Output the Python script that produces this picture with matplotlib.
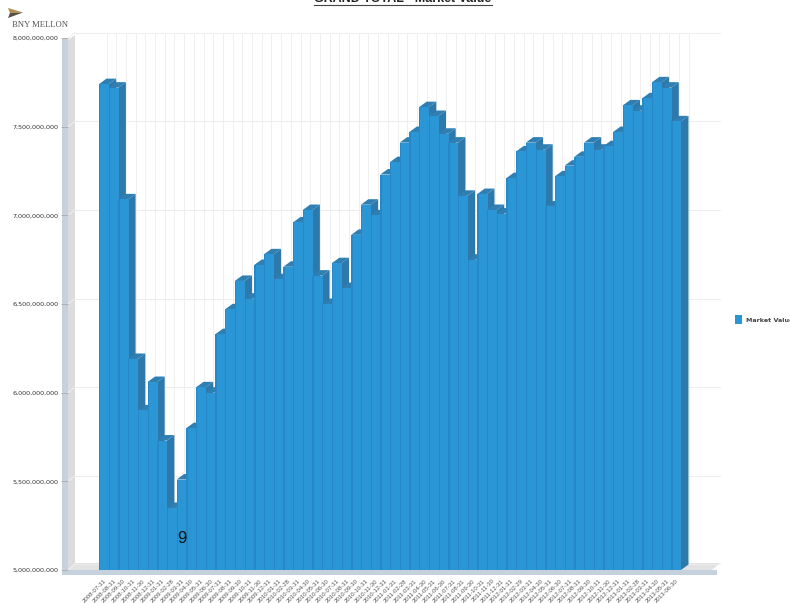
import matplotlib
matplotlib.use("Agg")
import matplotlib.pyplot as plt
from matplotlib.patches import Polygon

dates = [
    "2008-07-31", "2008-08-31", "2008-09-30", "2008-10-31", "2008-11-30", "2008-12-31",
    "2009-01-31", "2009-02-28", "2009-03-31", "2009-04-30", "2009-05-31", "2009-06-30",
    "2009-07-31", "2009-08-31", "2009-09-30", "2009-10-31", "2009-11-30", "2009-12-31",
    "2010-01-31", "2010-02-28", "2010-03-31", "2010-04-30", "2010-05-31", "2010-06-30",
    "2010-07-31", "2010-08-31", "2010-09-30", "2010-10-31", "2010-11-30", "2010-12-31",
    "2011-01-31", "2011-02-28", "2011-03-31", "2011-04-30", "2011-05-31", "2011-06-30",
    "2011-07-31", "2011-08-31", "2011-09-30", "2011-10-31", "2011-11-30", "2011-12-31",
    "2012-01-31", "2012-02-29", "2012-03-31", "2012-04-30", "2012-05-31", "2012-06-30",
    "2012-07-31", "2012-08-31", "2012-09-30", "2012-10-31", "2012-11-30", "2012-12-31",
    "2013-01-31", "2013-02-28", "2013-03-31", "2013-04-30", "2013-05-31", "2013-06-30",
]
values = [
    7.74, 7.72, 7.09, 6.19, 5.90, 6.06, 5.73, 5.35, 5.51, 5.80,
    6.03, 6.00, 6.33, 6.47, 6.63, 6.53, 6.72, 6.78, 6.64, 6.71,
    6.96, 7.03, 6.66, 6.50, 6.73, 6.59, 6.89, 7.06, 7.00, 7.23,
    7.30, 7.41, 7.47, 7.61, 7.56, 7.46, 7.41, 7.11, 6.75, 7.12,
    7.03, 7.01, 7.21, 7.36, 7.41, 7.37, 7.05, 7.22, 7.28, 7.33,
    7.41, 7.37, 7.39, 7.47, 7.62, 7.59, 7.66, 7.75, 7.72, 7.53,
]
values = [v * 1e9 for v in values]
y_ticks = [5e9, 5.5e9, 6e9, 6.5e9, 7e9, 7.5e9, 8e9]

W, H = 790, 603
FRONT = "#2a96d6"
SEAM = "#2688c6"
SIDE = "#2d79ab"
TOP = "#2f7fb3"


def px(x, y):
    return x / W, 1 - y / H


def shape(fig, pts, color, z=0):
    fig.add_artist(Polygon([px(*p) for p in pts], closed=True, transform=fig.transFigure,
                           facecolor=color, edgecolor="none", zorder=z))


fig = plt.figure(figsize=(7.9, 6.03), dpi=100, facecolor="white")
plt.rcParams["font.family"] = ["Liberation Sans", "DejaVu Sans"]

# walls of the fake 3D box
shape(fig, [(62, 38), (68, 38), (68, 570), (62, 570)], "#c5d2de")
shape(fig, [(68, 40), (75, 35), (75, 563), (68, 570)], "#dcdcdc")
shape(fig, [(68, 570), (75, 563), (720, 563), (712, 570)], "#e2e2e2")
shape(fig, [(62, 570), (717, 570), (717, 575), (62, 575)], "#c5d2de")

# axes = front plane of the box, bars live in it
ax = fig.add_axes([68 / W, 1 - 570 / H, 644 / W, 532 / H])
ax.patch.set_alpha(0)
ax.set_xlim(-31 / 9.7, 613 / 9.7)
ax.set_ylim(5e9, 8e9)
for s in ax.spines.values():
    s.set_visible(False)

dx = 7.5 / 9.7
dy = 5.5 / 532 * 3e9

# back wall grid
x_right = (720 - 99) / 9.7
x_left = (75 - 99) / 9.7
for t in y_ticks:
    ax.plot([x_left, x_right], [t + dy, t + dy], color="#ececec", lw=0.7, zorder=1, clip_on=False)
    ax.plot([-31 / 9.7, x_left], [t, t + dy], color="#efefef", lw=0.7, zorder=1, clip_on=False)
for i in range(len(dates) + 1):
    ax.plot([i + dx, i + dx], [5e9 + dy, 8e9 + dy], color="#efefef", lw=0.7, zorder=1, clip_on=False)

n = len(values)
for i, v in enumerate(values):
    z = 3 + i
    ax.add_patch(Polygon([(i + 1, 5e9), (i + 1 + dx, 5e9 + dy), (i + 1 + dx, v + dy), (i + 1, v)],
                         facecolor=SIDE, edgecolor="none", zorder=z, clip_on=False))
    ax.add_patch(Polygon([(i, v), (i + dx, v + dy), (i + 1 + dx, v + dy), (i + 1, v)],
                         facecolor=TOP, edgecolor="none", zorder=z, clip_on=False))
    # a bit wider than the slot so no white hairline shows between bars
    w = 1.06 if i < n - 1 else 1
    ax.bar(i, v - 5e9, bottom=5e9, width=w, align="edge", color=FRONT, linewidth=0, zorder=z, clip_on=False)
    ax.bar(i, v - 5e9, bottom=5e9, width=0.14, align="edge", color=SEAM, linewidth=0, zorder=z, clip_on=False)

ax.set_yticks(y_ticks)
ax.set_yticklabels([f"{int(t):,}" for t in y_ticks], fontsize=4.6, color="#333333",
                   fontfamily=["DejaVu Sans"])
ax.tick_params(axis="y", length=5, width=0.6, color="#aaaaaa", pad=2)
ax.set_xticks([i + 0.5 for i in range(n)])
ax.set_xticklabels(dates, rotation=45, ha="right", va="top", rotation_mode="anchor",
                   fontsize=4.3, color="#555555")
ax.tick_params(axis="x", length=0, pad=6)

# title, cut off by the top of the picture
fig.text(*px(403, 2.5), "GRAND TOTAL - Market Value", ha="center", va="baseline",
         fontsize=9, fontweight="bold", color="#222222")
fig.add_artist(plt.Line2D([314 / W, 492 / W], [1 - 5 / H] * 2, color="#444444", lw=0.8))

# logo
shape(fig, [(8, 8), (23, 12.5), (10, 13)], "#b08d4c", 5)
shape(fig, [(10, 13), (23, 12.5), (8, 18)], "#55504a", 5)
fig.text(*px(12, 27), "BNY MELLON", fontsize=6.2, color="#555555", family="Liberation Serif")

# legend, runs off the right edge
shape(fig, [(735, 315), (742, 315), (742, 324), (735, 324)], "#2a96d6", 5)
fig.text(*px(746, 322), "Market Value", fontsize=4.6, fontweight="bold", color="#444444",
         family="DejaVu Sans")

fig.text(*px(182, 543), "9", ha="center", fontsize=12, color="#111111", zorder=100)

fig.savefig("out.png", dpi=100)
